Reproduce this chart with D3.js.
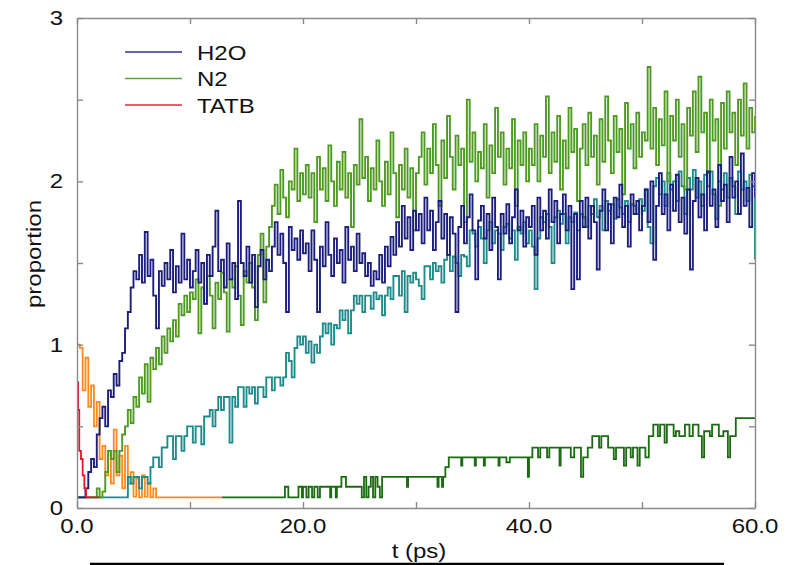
<!DOCTYPE html>
<html><head><meta charset="utf-8">
<script src="https://cdn.jsdelivr.net/npm/d3@7"></script>
<style>html,body{margin:0;padding:0;background:#fff;}svg{display:block;font-family:"Liberation Sans",Arial,Helvetica,sans-serif;}</style>
</head><body><svg id="c" width="798" height="565"></svg>
<script>
// sampling interval of the dense series (ps)
const DT = 0.25;
const xTicks = [0, 10, 20, 30, 40, 50, 60];
const xLabels = [0, 20, 40, 60];
const yTicks = [0, 0.5, 1, 1.5, 2, 2.5, 3];
const yLabels = [0, 1, 2, 3];
const legendNames = ["H2O", "N2", "TATB"];

const h2o = [
0.065,0.065,0.065,0.12,0.22,0.3,0.25,0.45,0.55,0.62,0.5,0.72,0.68,0.82,0.75,0.9,0.95,1.1,1.2,1.35,
1.45,1.4,1.55,1.38,1.69,1.42,1.52,1.3,1.1,1.45,1.36,1.5,1.4,1.58,1.32,1.48,1.38,1.68,1.4,1.52,
1.35,1.45,1.58,1.38,1.5,1.25,1.55,1.42,1.6,1.82,1.45,1.52,1.35,1.62,1.4,1.5,1.28,1.88,1.5,1.42,
1.6,1.38,1.55,1.23,1.48,1.58,1.4,1.52,1.45,1.6,1.75,1.55,1.68,1.5,1.2,1.72,1.58,1.65,1.52,1.7,
1.56,1.62,1.45,1.7,1.52,1.2,1.6,1.48,1.75,1.55,1.42,1.65,1.5,1.58,1.38,1.72,1.52,1.6,1.45,1.68,
1.5,1.56,1.42,1.5,1.36,1.45,1.4,1.55,1.38,1.6,1.48,1.66,1.55,1.75,1.6,1.85,1.65,1.78,1.58,1.82,
1.7,1.8,1.62,1.9,1.7,1.82,1.58,1.75,1.88,1.65,1.8,1.55,1.78,1.68,1.2,1.72,1.85,1.62,1.78,1.92,
1.7,1.4,1.76,1.85,1.65,1.8,1.58,1.9,1.72,1.4,1.8,1.68,1.86,1.62,1.78,1.95,1.7,1.82,1.6,1.78,
1.72,1.85,1.55,1.9,1.7,1.82,1.65,1.95,1.75,1.88,1.62,1.8,1.92,1.7,1.85,1.34,1.8,1.4,1.88,1.72,
1.9,1.65,1.85,1.75,1.46,1.82,1.95,1.7,1.86,1.62,1.9,1.78,1.98,1.72,1.85,1.6,1.92,1.8,1.88,1.7,
1.85,1.95,1.75,2.0,1.52,1.85,2.05,1.8,1.92,1.7,1.98,1.82,2.04,1.75,1.9,1.68,1.95,1.46,1.88,2.02,
1.78,1.92,1.7,2.06,1.85,1.95,1.72,2.1,1.88,1.98,1.75,2.15,1.9,2.0,1.8,2.17,1.85,1.96,1.72,2.05,1.9
];

const n2 = [
0.065,0.065,0.065,0.065,0.065,0.065,0.065,0.12,0.065,0.1,0.22,0.35,0.3,0.35,0.22,0.35,0.45,0.5,0.6,0.52,
0.68,0.62,0.8,0.7,0.88,0.65,0.92,0.85,0.98,0.88,1.05,0.95,1.1,1.02,1.15,1.05,1.25,1.18,1.3,1.2,
1.32,1.28,1.4,1.07,1.35,1.25,1.42,1.3,1.1,1.38,1.28,1.44,1.32,1.08,1.4,1.35,1.48,1.3,1.12,1.45,
1.38,1.5,1.35,1.15,1.55,1.68,1.26,1.6,1.72,1.85,1.98,1.8,2.07,1.9,1.78,2.0,1.95,2.2,1.88,2.05,
1.92,2.1,1.9,2.05,1.75,2.15,1.95,2.08,1.88,2.22,2.0,1.85,2.12,1.95,2.18,1.9,2.05,1.72,2.1,1.98,
2.38,2.02,2.15,1.88,2.08,1.95,2.25,2.0,1.85,2.12,1.92,2.3,2.05,1.78,2.1,1.95,2.2,1.9,2.08,1.7,
2.05,2.15,2.3,1.98,2.2,2.05,2.35,2.1,1.85,2.25,2.02,2.4,2.15,1.95,2.28,2.1,2.2,1.75,2.5,2.12,
2.3,2.0,2.18,2.08,2.35,1.9,2.22,2.05,2.45,2.15,2.3,1.98,2.2,2.08,2.38,1.85,2.25,2.1,2.3,2.0,
2.2,2.1,2.35,2.0,2.28,2.15,2.52,2.05,2.3,2.12,2.4,1.95,2.25,2.08,2.45,2.18,2.32,1.88,2.2,2.35,
2.1,2.42,2.15,2.28,1.98,2.38,2.12,2.52,2.25,2.05,2.4,2.18,2.32,1.92,2.48,2.2,2.35,2.08,2.42,2.15,
2.3,2.25,2.7,2.2,2.45,2.1,2.38,2.22,2.55,2.0,2.4,2.25,2.5,2.15,2.35,1.95,2.45,2.28,2.55,2.18,
2.64,2.3,2.42,2.05,2.5,2.25,2.38,1.85,2.48,2.2,2.55,2.3,2.42,2.1,2.5,2.28,2.6,2.2,2.45,2.3,2.4
];

const teal = [
0.065,0.065,0.065,0.065,0.065,0.065,0.065,0.065,0.065,0.065,0.065,0.065,0.065,0.065,0.065,0.065,0.065,0.065,0.19,0.15,
0.19,0.19,0.12,0.19,0.19,0.15,0.25,0.31,0.31,0.25,0.37,0.37,0.44,0.44,0.3,0.44,0.44,0.35,0.44,0.5,
0.5,0.4,0.5,0.5,0.39,0.56,0.56,0.6,0.5,0.6,0.68,0.6,0.68,0.68,0.4,0.68,0.62,0.74,0.74,0.62,
0.74,0.7,0.74,0.64,0.74,0.74,0.68,0.8,0.8,0.72,0.8,0.8,0.75,0.8,0.95,0.9,0.8,0.98,1.05,1.0,
1.05,0.95,1.02,0.89,1.0,0.95,1.05,1.13,1.07,1.13,1.0,1.12,1.1,1.21,1.15,1.21,1.07,1.21,1.3,1.25,
1.3,1.2,1.3,1.3,1.22,1.32,1.28,1.3,1.18,1.3,1.35,1.28,1.42,1.42,1.3,1.45,1.2,1.42,1.38,1.44,
1.4,1.36,1.28,1.48,1.48,1.4,1.5,1.45,1.48,1.38,1.52,1.55,1.45,1.54,1.5,1.42,1.55,1.54,1.48,1.7,
1.68,1.6,1.72,1.65,1.5,1.7,1.75,1.62,1.7,1.68,1.58,1.72,1.74,1.65,1.7,1.52,1.72,1.68,1.75,1.62,
1.7,1.6,1.34,1.65,1.78,1.75,1.8,1.72,1.5,1.78,1.82,1.74,1.8,1.62,1.78,1.75,1.81,1.7,1.8,1.78,
1.72,1.85,1.8,1.89,1.78,1.85,1.7,1.88,1.82,1.86,1.77,1.89,1.84,1.8,1.88,1.75,1.86,1.85,1.8,1.89,
1.82,1.95,1.72,1.62,1.97,2.02,1.92,2.0,1.85,2.05,1.95,2.0,1.88,2.06,1.97,1.8,2.02,1.95,2.07,1.9,
2.0,1.85,2.04,1.97,2.06,1.92,1.77,2.0,1.95,2.05,1.9,2.02,1.97,1.8,2.06,1.95,2.0,1.88,2.04,1.97,1.52
];

const orangeT = [0,0.25,0.5,0.75,1,1.25,1.5,1.75,2,2.25,2.5,2.75,3,3.25,3.5,3.75,4,4.25,4.5,4.75,5,5.25,5.5,5.75,6,6.25,6.5,6.75,7,12.8];
const orangeV = [1.0,0.98,0.72,0.92,0.62,0.75,0.5,0.65,0.3,0.38,0.2,0.35,0.15,0.48,0.2,0.32,0.12,0.38,0.15,0.22,0.07,0.18,0.065,0.2,0.07,0.15,0.065,0.12,0.065,0.065];

const tatbT = [0,0.1,0.2,0.35,0.5,0.65,0.8,2.0];
const tatbV = [0.77,0.6,0.35,0.3,0.2,0.12,0.065,0.065];

const dgT = [12.8,18.4,18.7,19.6,19.9,20.0,20.3,20.5,20.8,21.0,21.3,21.5,22.4,22.5,22.9,23.0,23.4,23.8,25.2,25.4,25.6,25.8,26.0,26.2,26.4,26.6,26.8,27.0,29.2,29.3,31.9,32.0,32.3,32.4,32.6,32.9,34.0,34.1,35.2,35.3,36.0,36.1,37.3,37.4,38.0,38.3,39.9,40.0,40.3,40.8,41.0,41.6,41.8,42.7,42.8,43.7,44.0,44.6,44.8,45.2,45.6,46.2,46.4,47.0,47.5,47.7,48.4,48.6,49.0,49.2,49.6,49.8,50.3,50.6,51.0,51.4,51.6,52.0,52.2,52.8,53.0,53.3,53.8,54.2,54.5,55.0,55.3,55.5,56.0,56.2,56.8,57.2,57.6,57.8,58.3,60.0];
const dgV = [0.065,0.13,0.065,0.13,0.065,0.13,0.065,0.13,0.065,0.13,0.065,0.13,0.065,0.13,0.065,0.13,0.19,0.13,0.065,0.19,0.065,0.13,0.19,0.065,0.19,0.13,0.065,0.19,0.13,0.19,0.13,0.19,0.13,0.19,0.25,0.31,0.26,0.31,0.26,0.31,0.26,0.31,0.26,0.31,0.28,0.31,0.19,0.31,0.37,0.31,0.37,0.31,0.37,0.26,0.37,0.31,0.37,0.19,0.31,0.37,0.44,0.37,0.44,0.37,0.3,0.37,0.26,0.37,0.31,0.37,0.26,0.37,0.31,0.44,0.51,0.44,0.51,0.4,0.51,0.44,0.47,0.44,0.51,0.44,0.51,0.44,0.31,0.47,0.44,0.51,0.44,0.47,0.31,0.44,0.55,0.55];

const svg = d3.select("#c");
const x = d3.scaleLinear().domain([0, 60]).range([77, 755]);
const y = d3.scaleLinear().domain([0, 3]).range([508, 18]);

svg.append("rect").attr("width", 798).attr("height", 565).attr("fill", "#fff");

svg.append("defs").append("clipPath").attr("id", "clip")
  .append("rect").attr("x", 77).attr("y", 18).attr("width", 678).attr("height", 490);

const line = d3.line().x(d => x(d[0])).y(d => y(d[1])).curve(d3.curveStepAfter);
const gridPts = arr => arr.map((v, i) => [i * DT, v]);
const pairPts = (t, v) => t.map((tt, i) => [tt, v[i]]);

const series = [
  { pts: pairPts(dgT, dgV), color: "#1b6b12", w: 1.8 },
  { pts: pairPts(orangeT, orangeV), color: "#ff8a1c", w: 1.8 },
  { pts: gridPts(teal), color: "#1f8b8b", w: 1.9 },
  { pts: gridPts(n2), color: "#4e9a22", w: 1.9 },
  { pts: gridPts(h2o), color: "#1c1e7e", w: 1.9 },
  { pts: pairPts(tatbT, tatbV), color: "#e8142c", w: 1.8 }
];

const plot = svg.append("g").attr("clip-path", "url(#clip)");
series.forEach(s => {
  plot.append("path").datum(s.pts).attr("d", line)
    .attr("fill", "none").attr("stroke", s.color).attr("stroke-width", s.w)
    .attr("stroke-linejoin", "miter");
});

// frame + inward ticks
const frameColor = "#8a8a8a";
const axB = d3.axisBottom(x).tickValues(xTicks).tickSizeInner(-6).tickSizeOuter(0).tickFormat("");
const axT = d3.axisTop(x).tickValues(xTicks).tickSizeInner(-6).tickSizeOuter(0).tickFormat("");
const axL = d3.axisLeft(y).tickValues(yTicks).tickSizeInner(-6).tickSizeOuter(0).tickFormat("");
const axR = d3.axisRight(y).tickValues(yTicks).tickSizeInner(-6).tickSizeOuter(0).tickFormat("");
[[axB, "translate(0,508)"], [axT, "translate(0,18)"], [axL, "translate(77,0)"], [axR, "translate(755,0)"]].forEach(([ax, tr]) => {
  const g = svg.append("g").attr("transform", tr).call(ax);
  g.selectAll("path,line").attr("stroke", frameColor).attr("stroke-width", 1.4);
});

function label(txt, px, py, anchor, rot, size) {
  svg.append("g").attr("transform", `translate(${px},${py}) rotate(${rot || 0}) scale(1.2,1)`)
    .append("text").attr("text-anchor", anchor).attr("font-size", size || 20)
    .attr("fill", "#111").text(txt);
}

xLabels.forEach(v => label(d3.format(".1f")(v), x(v), 533, "middle"));
yLabels.forEach(v => label(String(v), 63, y(v) + 7, "end"));
label("t (ps)", 419, 558, "middle");
label("proportion", 41, 254, "middle", -90);

// legend
const legendColors = ["#2a3694", "#55a43c", "#ec2438"];
legendNames.forEach((n, i) => {
  const ly = 52 + i * 26.5;
  svg.append("line").attr("x1", 125).attr("x2", 182).attr("y1", ly).attr("y2", ly)
    .attr("stroke", legendColors[i]).attr("stroke-width", 1.6);
  label(n, 197, ly + 7.5, "start");
});

// black rule under the chart
svg.append("line").attr("x1", 90).attr("x2", 724).attr("y1", 564).attr("y2", 564)
  .attr("stroke", "#000").attr("stroke-width", 2.5);
</script></body></html>
